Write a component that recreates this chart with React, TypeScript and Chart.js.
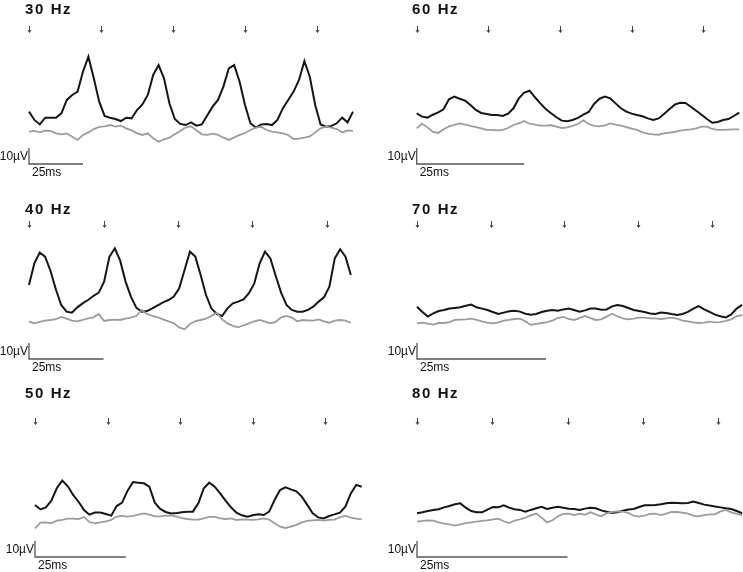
import React, { useEffect, useRef } from "react";
import { Chart, registerables } from "chart.js";

Chart.register(...registerables);

// ---------- data (µV, uniformly sampled from stimulus onset) ----------
const titles = ["30 Hz", "40 Hz", "50 Hz", "60 Hz", "70 Hz", "80 Hz"];
const stimFreqHz = [30, 40, 50, 60, 70, 80];
const sampleStepMs = [2.5, 1.8, 1.5, 1.25, 1.05, 0.9];
const stimulusCount = 5;
const scaleBarUV = 10;
const scaleBarMs = 25;
const scaleLabelV = "10µV";
const scaleLabelT = "25ms";

const resp30 = [24.0, 18.8, 16.0, 20.2, 20.2, 20.2, 22.9, 31.3, 34.4, 36.5, 49.0, 58.3, 44.8, 30.2, 21.3, 20.2, 19.4, 18.1, 20.2, 19.8, 25.0, 28.5, 34.4, 46.9, 53.1, 44.8, 29.2, 19.4, 16.3, 15.6, 17.3, 15.2, 16.0, 21.5, 27.1, 31.3, 39.6, 51.0, 53.1, 42.7, 28.1, 16.7, 14.0, 16.0, 16.3, 15.6, 18.8, 26.0, 31.3, 36.5, 43.8, 55.6, 45.8, 28.1, 16.0, 14.6, 15.0, 16.7, 20.2, 17.3, 24.0];
const ctrl30 = [11.5, 11.9, 11.0, 12.1, 11.9, 10.4, 9.8, 10.4, 8.3, 6.3, 9.4, 11.0, 13.1, 14.4, 14.8, 15.6, 14.6, 15.2, 13.5, 12.3, 10.4, 9.4, 10.4, 7.3, 5.2, 6.7, 7.7, 9.8, 11.9, 14.0, 14.8, 12.3, 9.8, 9.4, 10.2, 9.4, 7.7, 6.3, 7.9, 9.4, 10.6, 12.5, 14.0, 14.4, 12.5, 11.5, 11.0, 10.4, 9.4, 6.9, 7.1, 7.7, 8.5, 11.0, 13.5, 14.6, 14.0, 13.1, 11.0, 12.3, 11.9];

const resp40 = [34.4, 47.9, 54.6, 52.1, 43.3, 31.7, 21.9, 17.7, 17.1, 20.4, 22.9, 25.0, 27.5, 29.6, 36.5, 52.1, 57.3, 49.6, 36.5, 27.1, 20.2, 17.7, 18.1, 19.8, 21.7, 23.5, 25.0, 27.1, 32.3, 43.8, 55.2, 52.1, 40.6, 28.1, 19.8, 16.3, 15.0, 19.8, 22.9, 24.0, 25.4, 29.2, 35.4, 47.9, 55.2, 51.0, 40.0, 29.6, 21.9, 18.8, 17.7, 17.7, 18.8, 20.8, 24.0, 26.7, 33.3, 51.0, 56.7, 52.1, 40.6];
const ctrl40 = [11.5, 10.4, 11.3, 12.1, 12.5, 13.1, 14.4, 13.3, 12.1, 11.7, 12.5, 13.5, 14.2, 16.3, 11.9, 12.5, 12.7, 12.5, 13.3, 14.0, 15.0, 18.8, 16.3, 15.0, 14.2, 12.9, 11.7, 10.4, 7.9, 6.7, 10.0, 11.7, 12.5, 13.3, 15.0, 17.1, 12.9, 10.4, 8.8, 7.9, 9.2, 10.4, 11.7, 12.5, 11.5, 10.4, 11.3, 14.2, 15.0, 14.0, 11.7, 12.5, 12.3, 12.1, 12.9, 11.7, 10.8, 12.1, 12.5, 12.1, 10.8];

const resp50 = [18.8, 16.0, 17.3, 21.5, 29.2, 34.0, 30.6, 25.0, 20.8, 15.6, 12.7, 14.0, 14.0, 13.1, 12.1, 18.1, 20.2, 27.7, 33.1, 32.7, 32.3, 30.2, 20.2, 16.3, 14.4, 13.5, 13.8, 14.2, 14.6, 14.6, 19.8, 29.2, 32.7, 30.2, 26.0, 21.5, 17.3, 14.0, 12.3, 11.5, 12.3, 12.9, 12.5, 14.6, 21.9, 28.1, 29.8, 28.5, 27.3, 24.0, 18.8, 13.5, 11.0, 10.4, 11.9, 12.9, 14.0, 17.7, 26.0, 31.3, 30.2];
const ctrl50 = [4.2, 7.7, 7.9, 7.3, 9.0, 9.4, 10.2, 10.2, 10.0, 11.3, 8.1, 7.3, 7.9, 8.5, 9.4, 11.5, 11.9, 11.5, 11.9, 12.7, 13.5, 12.7, 11.7, 11.7, 12.1, 12.3, 11.5, 10.6, 10.0, 9.6, 9.6, 10.4, 11.3, 11.3, 10.4, 10.0, 10.4, 9.4, 9.8, 9.6, 9.4, 9.8, 10.4, 9.6, 7.3, 5.2, 4.4, 5.2, 6.3, 7.9, 8.8, 9.2, 9.4, 9.0, 9.4, 9.6, 11.0, 12.1, 10.8, 10.2, 9.8];

const resp60 = [16.7, 14.6, 14.0, 15.8, 17.3, 19.2, 25.4, 27.1, 25.8, 24.6, 21.9, 18.8, 16.9, 16.3, 15.6, 15.6, 15.0, 16.5, 19.8, 26.0, 29.6, 30.8, 26.7, 22.9, 19.4, 16.7, 14.2, 12.1, 11.7, 12.5, 13.8, 15.8, 17.5, 22.5, 25.8, 27.1, 26.0, 22.9, 19.8, 17.7, 16.5, 15.6, 14.8, 13.5, 12.5, 13.5, 16.3, 19.2, 22.1, 23.3, 23.1, 20.8, 18.3, 15.8, 13.1, 10.8, 11.3, 12.5, 13.1, 15.0, 17.1];
const ctrl60 = [7.3, 10.2, 7.9, 5.0, 4.4, 6.7, 8.5, 9.4, 10.4, 9.6, 8.8, 8.1, 7.3, 6.3, 6.3, 6.0, 6.3, 7.5, 9.4, 10.4, 11.9, 10.2, 9.6, 9.0, 9.0, 9.2, 8.3, 7.5, 7.9, 8.8, 10.0, 12.3, 10.0, 8.8, 8.5, 9.2, 10.4, 9.6, 9.0, 8.1, 7.1, 6.3, 4.8, 4.0, 3.5, 3.3, 4.2, 4.6, 5.0, 5.8, 6.3, 6.7, 7.3, 8.3, 8.3, 6.9, 6.3, 6.3, 6.5, 6.7, 6.7];

const resp70 = [17.7, 14.4, 11.5, 13.5, 15.0, 15.6, 16.5, 16.9, 17.3, 18.3, 19.0, 17.3, 16.5, 15.6, 14.4, 13.1, 14.0, 14.8, 15.2, 14.6, 13.3, 12.7, 13.1, 14.4, 15.2, 15.6, 15.2, 16.0, 16.5, 15.6, 14.6, 15.4, 16.5, 16.5, 15.8, 16.0, 17.9, 18.8, 18.1, 16.9, 15.6, 15.0, 14.4, 13.5, 13.1, 14.0, 13.8, 13.1, 12.5, 13.1, 14.4, 16.5, 18.1, 16.0, 14.4, 12.7, 11.7, 11.0, 12.9, 16.5, 18.8];
const ctrl70 = [7.3, 7.7, 7.1, 6.5, 7.5, 7.5, 8.1, 9.4, 9.6, 9.8, 10.2, 9.4, 8.5, 7.7, 7.3, 7.9, 9.0, 9.4, 10.0, 10.2, 8.5, 6.3, 6.9, 7.5, 8.1, 9.0, 10.6, 11.3, 10.0, 9.4, 10.6, 11.9, 10.6, 9.4, 9.8, 11.5, 13.3, 11.7, 10.4, 9.8, 10.2, 10.8, 10.8, 10.4, 10.4, 10.0, 10.4, 10.8, 10.2, 9.0, 8.5, 7.9, 7.5, 7.7, 8.3, 7.9, 8.1, 8.8, 9.8, 11.7, 12.5];

const resp80 = [16.7, 17.3, 18.1, 18.8, 19.2, 20.4, 21.3, 22.3, 22.9, 20.2, 18.1, 17.3, 17.3, 19.0, 20.6, 20.4, 21.7, 20.2, 19.2, 18.8, 17.7, 18.8, 19.8, 20.8, 19.4, 20.2, 20.8, 20.2, 19.6, 19.4, 18.8, 19.6, 20.2, 19.8, 18.5, 17.7, 16.9, 17.3, 18.3, 19.0, 19.4, 20.6, 21.7, 21.7, 21.9, 22.3, 22.9, 23.3, 23.1, 22.9, 23.1, 24.0, 23.1, 22.1, 21.5, 21.0, 20.4, 19.8, 19.4, 18.1, 16.7];
const ctrl80 = [11.5, 11.9, 12.3, 12.1, 11.0, 10.2, 9.8, 9.0, 9.8, 10.6, 11.0, 11.5, 11.9, 12.3, 12.9, 13.3, 11.7, 10.6, 12.1, 12.9, 14.0, 15.4, 16.5, 14.0, 11.0, 12.3, 14.8, 16.3, 16.5, 15.6, 16.5, 15.8, 17.3, 16.0, 14.8, 16.7, 17.5, 17.9, 17.7, 16.9, 15.2, 14.6, 15.2, 16.3, 16.5, 15.6, 16.5, 17.5, 17.5, 17.1, 16.5, 15.2, 14.8, 15.6, 16.0, 16.0, 17.9, 18.8, 17.3, 16.3, 15.6];

const responses = [resp30, resp40, resp50, resp60, resp70, resp80];
const controls = [ctrl30, ctrl40, ctrl50, ctrl60, ctrl70, ctrl80];

// ---------- layout (page pixels) ----------
const W = 743;
const H = 572;
const PX_PER_UV = 1.6;
const layouts = [
  { left: 29, pxPerMs: 2.16, top: 45, bottom: 150, titleX: 25, titleBase: 14, arrowY: 26, barBottom: 164 },
  { left: 29, pxPerMs: 2.98, top: 240, bottom: 340, titleX: 25, titleBase: 214, arrowY: 221, barBottom: 359 },
  { left: 35, pxPerMs: 3.63, top: 470, bottom: 535, titleX: 25, titleBase: 398, arrowY: 418, barBottom: 557 },
  { left: 416.7, pxPerMs: 4.3, top: 80, bottom: 140, titleX: 412, titleBase: 14, arrowY: 26, barBottom: 164 },
  { left: 417, pxPerMs: 5.16, top: 290, bottom: 335, titleX: 412, titleBase: 214, arrowY: 221, barBottom: 359 },
  { left: 417, pxPerMs: 6.02, top: 495, bottom: 540, titleX: 412, titleBase: 398, arrowY: 418, barBottom: 557 },
];

const BLACK = "#151515";
const GRAY = "#9c9c9c";
const FONT = '"Liberation Sans", Arial, sans-serif';

const decorPlugin = {
  id: "decor",
  afterDraw(chart: any, _args: any, opts: any) {
    const { ctx } = chart;
    const x = chart.scales.x;
    const y = chart.scales.y;
    ctx.save();
    // title
    ctx.fillStyle = "#111";
    ctx.font = `bold 15px ${FONT}`;
    ctx.textAlign = "left";
    ctx.textBaseline = "alphabetic";
    (ctx as any).letterSpacing = "1.6px";
    ctx.fillText(opts.title, opts.titleX, opts.titleBase);
    (ctx as any).letterSpacing = "0px";

    // stimulus arrows
    const period = 1000 / opts.freq;
    ctx.strokeStyle = "#444";
    ctx.lineWidth = 1;
    for (let k = 0; k < stimulusCount; k++) {
      const px = Math.round(x.getPixelForValue(k * period)) + 0.5;
      const ay = opts.arrowY;
      ctx.beginPath();
      ctx.moveTo(px, ay);
      ctx.lineTo(px, ay + 6);
      ctx.stroke();
      ctx.beginPath();
      ctx.moveTo(px - 1.5, ay + 4);
      ctx.lineTo(px, ay + 6.5);
      ctx.lineTo(px + 1.5, ay + 4);
      ctx.stroke();
    }

    // scale bar
    const x0 = x.getPixelForValue(0);
    const xw = x.getPixelForValue(scaleBarMs) - x0;
    const vh = y.getPixelForValue(0) - y.getPixelForValue(scaleBarUV);
    const bb = opts.barBottom;
    ctx.strokeStyle = "#555";
    ctx.lineWidth = 1.3;
    ctx.beginPath();
    ctx.moveTo(x0, bb - vh);
    ctx.lineTo(x0, bb);
    ctx.lineTo(x0 + xw, bb);
    ctx.stroke();
    ctx.fillStyle = "#111";
    ctx.font = `12px ${FONT}`;
    ctx.textAlign = "right";
    ctx.textBaseline = "middle";
    ctx.fillText(scaleLabelV, x0 - 1, bb - 7);
    ctx.textAlign = "left";
    ctx.textBaseline = "top";
    ctx.fillText(scaleLabelT, x0 + 3, bb + 3);
    ctx.restore();
  },
};

function buildConfig(i: number): any {
  const L = layouts[i];
  const dt = sampleStepMs[i];
  const resp = responses[i];
  const ctrl = controls[i];
  const n = Math.max(resp.length, ctrl.length);
  const xMax = (n - 1) * dt;
  const right = L.left + xMax * L.pxPerMs;
  const yMax = (L.bottom - L.top) / PX_PER_UV;
  const toPts = (arr: number[]) => arr.map((v, k) => ({ x: k * dt, y: v }));
  return {
    type: "line",
    data: {
      datasets: [
        {
          data: toPts(ctrl),
          borderColor: GRAY,
          borderWidth: 1.8,
          pointRadius: 0,
          tension: 0,
          fill: false,
          clip: false,
        },
        {
          data: toPts(resp),
          borderColor: BLACK,
          borderWidth: 2,
          pointRadius: 0,
          tension: 0,
          fill: false,
          clip: false,
        },
      ],
    },
    options: {
      responsive: false,
      maintainAspectRatio: false,
      animation: false,
      events: [],
      layout: {
        padding: { left: L.left, top: L.top, right: W - right, bottom: H - L.bottom },
      },
      scales: {
        x: { type: "linear", min: 0, max: xMax, display: false },
        y: { type: "linear", min: 0, max: yMax, display: false },
      },
      plugins: {
        legend: { display: false },
        tooltip: { enabled: false },
        title: { display: false },
        decor: {
          title: titles[i],
          freq: stimFreqHz[i],
          titleX: L.titleX,
          titleBase: L.titleBase,
          arrowY: L.arrowY,
          barBottom: L.barBottom,
        },
      },
    },
    plugins: [decorPlugin],
  };
}

export default function App() {
  const refs = useRef<(HTMLCanvasElement | null)[]>([]);
  useEffect(() => {
    const charts: Chart[] = [];
    for (let i = 0; i < titles.length; i++) {
      const c = refs.current[i];
      if (c) charts.push(new Chart(c, buildConfig(i)));
    }
    return () => charts.forEach((ch) => ch.destroy());
  }, []);
  return (
    <div style={{ position: "absolute", left: 0, top: 0, width: W, height: H, background: "#fff", overflow: "hidden" }}>
      {titles.map((t, i) => (
        <canvas
          key={t}
          ref={(el) => {
            refs.current[i] = el;
          }}
          width={W}
          height={H}
          style={{ position: "absolute", left: 0, top: 0, width: W, height: H }}
        />
      ))}
    </div>
  );
}
